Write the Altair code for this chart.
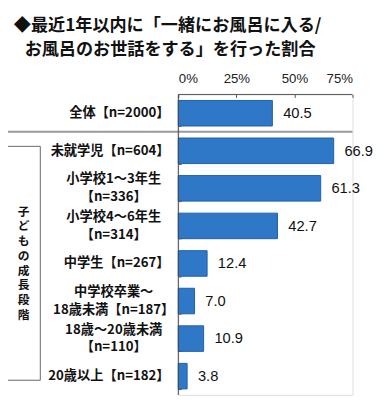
import altair as alt
import pandas as pd

# ---- data ----
categories = [
    "全体【n=2000】",
    "未就学児【n=604】",
    "小学校1～3年生\n【n=336】",
    "小学校4～6年生\n【n=314】",
    "中学生【n=267】",
    "中学校卒業～\n18歳未満【n=187】",
    "18歳～20歳未満\n【n=110】",
    "20歳以上【n=182】",
]
values = [40.5, 66.9, 61.3, 42.7, 12.4, 7.0, 10.9, 3.8]
tick_values = [0, 25, 50, 75]
title_lines = ["◆最近1年以内に「一緒にお風呂に入る/", "お風呂のお世話をする」を行った割合"]
group_label = "子どもの成長段階"

df = pd.DataFrame({"cat": categories, "val": values})
df["multi"] = df["cat"].str.contains("\n")
df["vlabel"] = df["val"].map(lambda v: f"{v:.1f}")

one = pd.DataFrame({"k": [0]})

W, H = 178, 307
FONT = "Noto Sans CJK JP"
LATIN = "Liberation Sans"

yscale = alt.Scale(paddingInner=0.32, paddingOuter=0.16)
ycat = alt.Y("cat:N", sort=categories, scale=yscale,
             axis=alt.Axis(orient="left", offset=-3, domain=False, labels=False,
                           ticks=True, tickSize=3, tickBand="extent",
                           tickColor="#555", grid=False, title=None))
xval = alt.X("val:Q", scale=alt.Scale(domain=[0, 75], nice=False),
             axis=alt.Axis(orient="top", values=tick_values,
                           labelExpr="datum.value + '%'", offset=-3,
                           domain=False, tickSize=3, tickColor="#555",
                           labelPadding=9, labelFontSize=13.5, labelFont=LATIN,
                           labelColor="#222", grid=False, title=None))

base = alt.Chart(df)

bars = base.mark_bar(fill="#2f78c8", stroke="#1f5ea8", strokeWidth=1).encode(
    x=xval, y=ycat)

vals = base.mark_text(align="left", baseline="middle", dx=11, fontSize=15,
                      font=LATIN, color="#111").encode(
    x="val:Q", y=alt.Y("cat:N", sort=categories), text="vlabel:N")

lab_single = base.transform_filter("!datum.multi").mark_text(
    align="right", baseline="middle", fontSize=13.5, fontWeight="bold",
    font=FONT, color="#111").encode(
    x=alt.value(-9), y=alt.Y("cat:N", sort=categories), text="cat:N")

lab_multi = base.transform_filter("datum.multi").mark_text(
    align="center", baseline="middle", fontSize=13.5, fontWeight="bold",
    font=FONT, color="#111", lineBreak="\n", lineHeight=18, dy=-9).encode(
    x=alt.value(-66), y=alt.Y("cat:N", sort=categories), text="cat:N")

deco = alt.Chart(one)
sep = deco.mark_rule(color="#9a9a9a", strokeWidth=2).encode(
    x=alt.value(-177), x2=alt.value(W), y=alt.value(38))
left_line = deco.mark_rule(color="#444", strokeWidth=1).encode(
    x=alt.value(0), y=alt.value(0), y2=alt.value(H))
top_line = deco.mark_rule(color="#555", strokeWidth=1).encode(
    x=alt.value(0), x2=alt.value(W), y=alt.value(0))
box = deco.mark_rect(fill="white", stroke="#666", strokeWidth=1).encode(
    x=alt.value(-175), x2=alt.value(-141), y=alt.value(53), y2=alt.value(292))
vtext = deco.mark_text(align="center", baseline="middle", fontSize=12,
                       fontWeight="bold", font=FONT, color="#111",
                       lineBreak="\n", lineHeight=15).encode(
    x=alt.value(-158), y=alt.value(120), text=alt.value("\n".join(group_label)))
t1 = deco.mark_text(align="left", baseline="middle", fontSize=17.5,
                    fontWeight="bold", font=FONT, color="#111").encode(
    x=alt.value(-168), y=alt.value(-70), text=alt.value(title_lines[0]))
t2 = deco.mark_text(align="left", baseline="middle", fontSize=17.5,
                    fontWeight="bold", font=FONT, color="#111").encode(
    x=alt.value(-157), y=alt.value(-45), text=alt.value(title_lines[1]))

chart = alt.layer(bars, vals, lab_single, lab_multi, sep, left_line, top_line,
                  box, vtext, t1, t2).properties(
    width=W, height=H,
    autosize=alt.AutoSizeParams(type="none"),
    padding={"left": 174, "top": 84, "right": 24, "bottom": 8},
).configure_view(stroke="#a8a8a8").configure(background="white")

chart.save("out.html", embed_options={"renderer": "svg", "actions": False})
